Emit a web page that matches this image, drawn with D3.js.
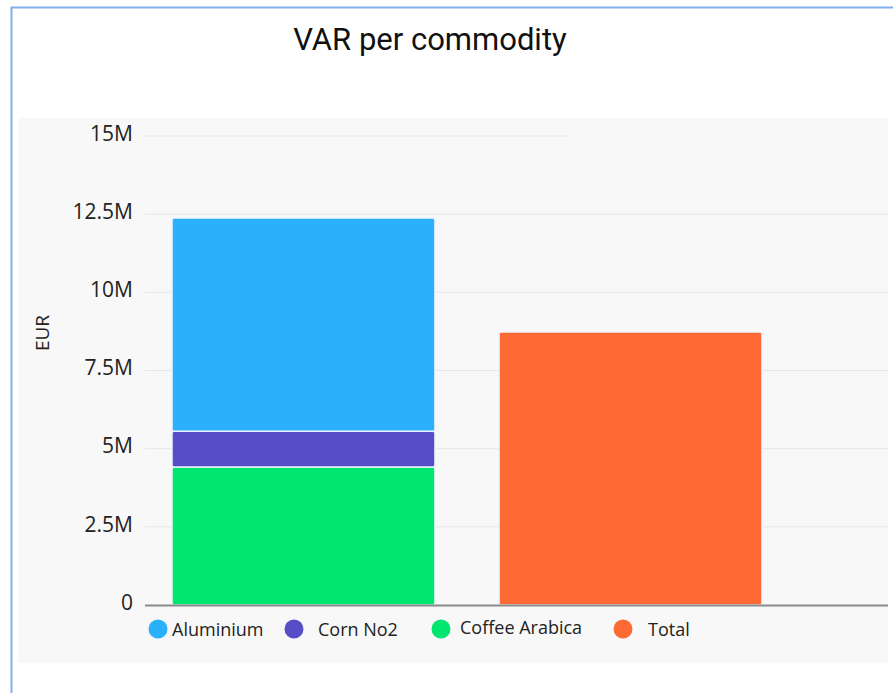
<!DOCTYPE html>
<html>
<head>
<meta charset="utf-8">
<script src="https://cdn.jsdelivr.net/npm/d3@7"></script>
<style>
  body { margin: 0; background: #fff; }
  svg { display: block; font-family: "Open Sans", sans-serif; }
</style>
</head>
<body>
<script>
// data
var categories = ["Commodities", "Total"];
var seriesNames = ["Coffee Arabica", "Corn No2", "Aluminium", "Total"];
var seriesColors = ["#00e66f", "#574dc6", "#2bb0fb", "#fe6a33"];
var coffeeArabica = [4.41e6, 0];
var cornNo2 = [1.15e6, 0];
var aluminium = [6.82e6, 0];
var total = [0, 8.73e6];
var yTicks = [0, 2.5e6, 5e6, 7.5e6, 10e6, 12.5e6, 15e6];
var yTickLabels = ["0", "2.5M", "5M", "7.5M", "10M", "12.5M", "15M"];
var legendOrder = ["Aluminium", "Corn No2", "Coffee Arabica", "Total"];

var width = 893, height = 693;
var svg = d3.select("body").append("svg").attr("width", width).attr("height", height);

// outer card border
svg.append("path").attr("d", "M11.5,693 V7.5 H893")
   .attr("fill", "none").attr("stroke", "#7fb1ec").attr("stroke-width", 2);

// title
svg.append("text").attr("x", 430).attr("y", 50).attr("text-anchor", "middle")
   .attr("font-family", "Roboto, sans-serif").attr("font-size", 31).attr("fill", "#111")
   .text("VAR per commodity");

// plot panel
svg.append("rect").attr("x", 18).attr("y", 118).attr("width", 870).attr("height", 545).attr("fill", "#f8f8f8");

var margin = {left: 145, top: 136};
var plotW = 888 - 145, plotH = 605 - 136;
var g = svg.append("g").attr("transform", "translate(" + margin.left + "," + margin.top + ")");

var y = d3.scaleLinear().domain([0, 15e6]).range([plotH, 0]);
var x = d3.scaleBand().domain(categories).range([-5.7, 649.7]).paddingInner(0.196).paddingOuter(0.1);

// gridlines
yTicks.slice(1).forEach(function(t) {
  g.append("line").attr("x1", 0).attr("x2", t === 15e6 ? 425 : plotW)
   .attr("y1", y(t)).attr("y2", y(t)).attr("stroke", "#e6e6e6").attr("stroke-width", 1);
});

// y tick labels
var yAxis = d3.axisLeft(y).tickValues(yTicks).tickSize(0).tickPadding(12)
  .tickFormat(function(d, i) { return yTickLabels[i]; });
var ya = g.append("g").call(yAxis);
ya.select(".domain").remove();
ya.selectAll("text").attr("font-size", 21).attr("fill", "#222").attr("font-family", "Open Sans, sans-serif")
  .attr("dy", "0.2em");

// stacked data
var rows = categories.map(function(c, i) {
  return {cat: c, "Coffee Arabica": coffeeArabica[i], "Corn No2": cornNo2[i], "Aluminium": aluminium[i], "Total": total[i]};
});
var stack = d3.stack().keys(seriesNames)(rows);
var color = d3.scaleOrdinal().domain(seriesNames).range(seriesColors);

stack.forEach(function(layer) {
  layer.forEach(function(d) {
    if (d[1] - d[0] <= 0) return;
    g.append("rect")
     .attr("x", x(d.data.cat)).attr("width", x.bandwidth())
     .attr("y", y(d[1])).attr("height", y(d[0]) - y(d[1]))
     .attr("rx", 2)
     .attr("fill", color(layer.key)).attr("stroke", "#eef4ff").attr("stroke-width", 1.5);
  });
});

// x axis baseline
g.append("line").attr("x1", 0).attr("x2", plotW).attr("y1", plotH + 0.5).attr("y2", plotH + 0.5)
 .attr("stroke", "#8a8a8a").attr("stroke-width", 2);

// y axis title
svg.append("text").attr("transform", "translate(49,333) rotate(-90)").attr("text-anchor", "middle")
   .attr("font-size", 19).attr("fill", "#222").text("EUR");

// legend
var legendX = [158, 294, 441, 623];
var textX = [172, 318, 460, 648];
var textY = [636, 636, 634, 636];
legendOrder.forEach(function(name, i) {
  svg.append("circle").attr("cx", legendX[i]).attr("cy", 629).attr("r", 9.5).attr("fill", color(name));
  svg.append("text").attr("x", textX[i]).attr("y", textY[i]).attr("font-size", 18).attr("fill", "#222").text(name);
});
</script>
</body>
</html>
